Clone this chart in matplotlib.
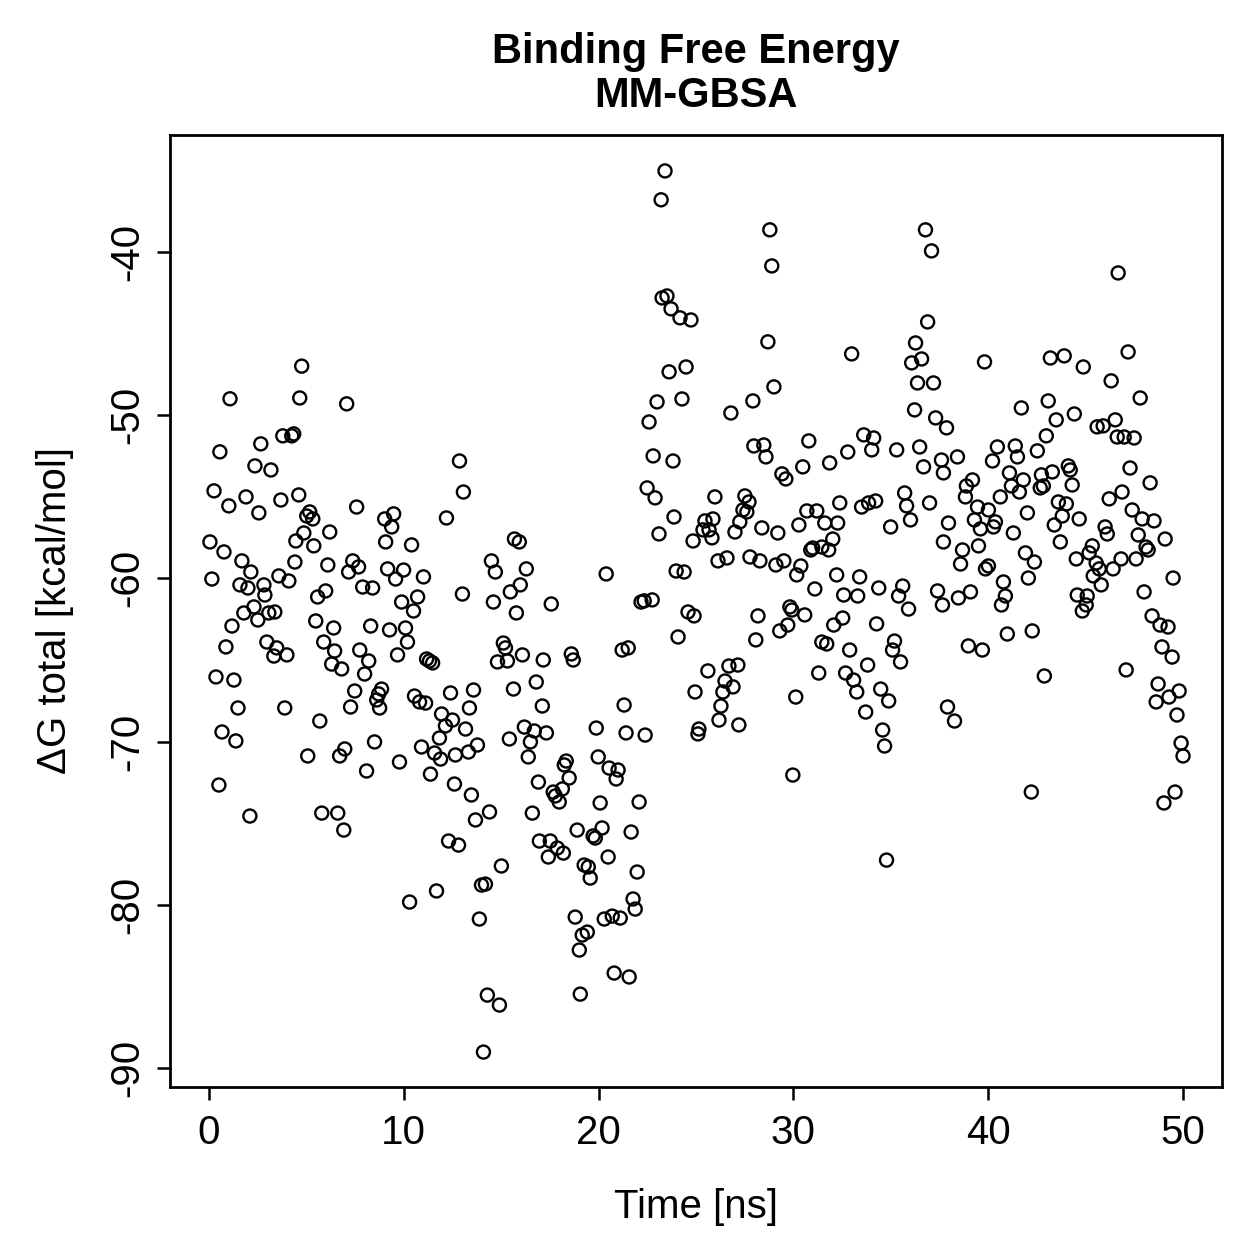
import matplotlib
matplotlib.use("Agg")
import matplotlib.pyplot as plt

plt.rcParams['font.family'] = ['Liberation Sans', 'DejaVu Sans']
plt.rcParams['axes.unicode_minus'] = False

# values, grouped roughly by region
time_ns = [
    4.76, 1.08, 4.66, 7.07, 3.79, 4.25, 4.35, 2.66, 0.56,
    2.36, 3.18, 0.26, 1.02, 1.90, 2.56, 3.69, 4.61, 5.02, 5.17,
    5.33, 4.87, 4.46, 6.20, 5.38, 7.58, 9.02, 9.48, 9.38, 9.07,
    10.40, 0.05, 0.77, 1.69, 2.15, 4.41, 6.10, 7.38, 7.68, 7.17,
    9.17, 9.99, 9.58, 11.01, 0.15, 1.59, 2.00, 2.82, 2.87, 3.59,
    4.10, 5.99, 5.58, 7.89, 8.40, 9.89, 10.71, 10.50, 12.19, 2.31,
    1.79, 2.51, 3.07, 3.38, 1.18, 5.48, 6.40, 8.30, 9.27, 10.09,
    0.87, 2.97, 3.48, 3.33, 4.00, 5.89, 6.45, 6.30, 6.81, 7.74,
    8.20, 7.99, 10.19, 9.68, 11.17, 11.32, 11.48, 0.36, 1.28, 7.48,
    8.86, 8.71, 8.61, 8.76, 10.55, 10.81, 11.12, 12.40, 1.49, 3.89,
    7.27, 5.69, 11.94, 12.14, 11.83, 0.67, 1.38, 8.50, 10.91, 5.07,
    6.97, 6.71, 9.78, 11.58, 11.89,
    8.09, 11.37, 0.51, 2.10, 5.79, 6.61, 6.92, 12.30, 11.68, 10.30,
    23.41, 23.21, 23.26, 23.51, 23.72, 24.18, 24.74, 23.62, 24.49, 23.00,
    24.28, 22.59, 22.80, 23.82, 12.86,
    13.06, 15.68, 15.93, 14.50, 14.70, 16.29, 15.98, 15.47, 13.01, 14.60,
    15.78, 17.57, 20.39, 22.49, 22.90, 23.87, 23.10, 24.85, 23.98, 24.39,
    22.18, 22.34, 22.75, 24.59, 24.90, 24.08, 15.11, 15.22, 14.81, 15.32,
    16.09, 17.16, 18.60, 18.70, 21.21, 21.52, 13.58, 15.63, 16.80, 13.37,
    12.50, 17.11, 21.31, 13.17, 16.19, 16.70, 17.32, 15.42, 16.50, 19.88,
    21.41, 22.39, 25.15, 25.10, 24.95, 13.78, 12.65, 13.32, 16.39, 19.98,
    18.34, 18.24, 20.54, 21.00, 20.90, 12.60, 13.47, 16.91, 18.49, 17.67,
    18.14, 17.78, 17.98, 20.08, 22.08, 14.40, 13.68, 16.60, 18.90, 19.72,
    19.83, 20.18, 21.67, 12.81, 16.96, 17.52, 17.88, 18.19, 17.42, 20.49,
    19.26, 19.47, 19.57, 21.98, 15.01, 13.99, 14.19, 21.77, 21.88, 18.80,
    20.29, 20.70, 21.11, 19.42, 19.16, 19.01, 13.88, 20.80, 21.57, 14.29,
    14.91, 19.06, 14.09,
    28.79, 28.89, 28.69, 32.99, 36.78, 37.09, 36.89, 36.27, 36.58, 36.07,
    36.37, 37.19, 36.22, 37.30, 37.86, 29.00, 27.92, 26.79, 27.97, 28.48,
    28.59, 30.79, 33.61, 34.12, 34.02, 32.79, 31.86, 35.30, 36.48, 37.60,
    29.41, 29.61, 30.48, 36.68, 37.70, 25.97, 27.51, 27.72, 27.41, 27.61,
    25.46, 25.87, 25.36, 25.67, 25.82, 27.00, 27.25, 28.38, 29.20, 30.28,
    30.69, 31.20, 31.61, 32.27, 32.38, 33.50, 33.86, 34.22, 35.71, 35.81,
    36.01, 34.99, 36.99, 37.96, 37.70, 32.02, 30.89, 30.99, 31.46, 31.81,
    26.13, 26.59, 27.77, 28.28, 29.10, 29.51, 30.38, 30.17, 32.22, 33.40,
    31.10, 32.58, 33.30, 34.38, 35.61, 35.40, 35.91, 37.40, 37.65, 28.18,
    29.82, 29.92, 30.58, 29.71, 29.30, 32.53, 32.07, 34.27, 28.07, 31.46,
    31.71, 32.89, 35.19, 35.09, 35.50, 33.81, 25.61, 26.69, 27.15, 26.49,
    26.90, 26.38, 26.28, 26.18, 27.20, 31.30, 32.68, 33.09, 33.25, 30.12,
    34.48, 34.89, 33.71, 34.58, 34.68, 37.91, 29.97, 34.78,
    46.67, 39.81, 43.19, 43.90, 44.88, 47.18, 46.31, 47.80, 41.70, 43.08,
    43.49, 44.42, 45.59, 45.90, 46.52, 46.62, 46.98, 47.49, 42.98, 40.47,
    41.39, 41.50, 42.52, 38.42, 40.22,
    39.19, 38.88, 38.83, 41.09, 41.80, 41.19, 41.60, 42.73, 43.29, 42.67,
    42.83, 44.11, 44.21, 44.31, 40.62, 47.28, 48.31, 46.87, 46.21, 43.60,
    44.01, 43.80, 44.67, 43.39, 42.01, 39.45, 40.01, 39.29, 39.60, 40.37,
    40.27, 41.29, 39.50, 38.68, 38.58, 41.91, 42.37, 43.70, 46.00, 46.11,
    47.39, 47.90, 48.51, 47.70, 49.08, 48.10, 48.21, 47.59, 46.82, 45.34,
    45.18, 44.52, 45.54, 45.70, 45.39, 46.41, 45.80, 40.01, 39.86, 40.78,
    42.06, 39.09, 38.47, 40.88, 40.68, 44.57, 45.08, 45.03, 44.83, 48.00,
    49.49, 48.41, 48.82, 49.23, 48.92, 49.44, 47.08, 48.72, 49.80, 49.28,
    48.62, 49.69, 49.90, 50.00, 40.98, 42.26, 38.98, 39.70, 42.88, 38.27,
    42.21, 49.59, 49.02,
]

dg_total = [
    -47.0, -49.0, -48.95, -49.31, -51.27, -51.27, -51.15, -51.76, -52.25,
    -53.11, -53.36, -54.64, -55.56, -55.01, -55.99, -55.20, -54.89, -56.18, -55.93,
    -56.36, -57.22, -57.71, -57.16, -58.01, -55.63, -56.36, -56.05, -56.85, -57.77,
    -57.95, -57.77, -58.38, -58.93, -59.61, -59.0, -59.18, -58.93, -59.30, -59.61,
    -59.42, -59.49, -60.04, -59.91, -60.04, -60.40, -60.59, -60.40, -61.02, -59.85,
    -60.16, -60.77, -61.14, -60.53, -60.59, -61.45, -61.14, -62.0, -56.30, -61.75,
    -62.12, -62.55, -62.12, -62.06, -62.92, -62.61, -63.04, -62.92, -63.16, -63.04,
    -64.20, -63.90, -64.26, -64.76, -64.69, -63.90, -64.45, -65.25, -65.55, -64.39,
    -65.06, -65.86, -63.90, -64.69, -64.94, -65.06, -65.18, -66.04, -66.23, -66.90,
    -66.78, -67.08, -67.45, -67.94, -67.21, -67.57, -67.64, -67.02, -67.94, -67.94,
    -67.88, -68.74, -68.31, -69.04, -69.78, -69.41, -69.96, -70.02, -70.33, -70.88,
    -70.45, -70.88, -71.25, -70.70, -71.07,
    -71.80, -71.99, -72.66, -74.56, -74.38, -74.38, -75.42, -76.09, -79.15, -79.83,
    -35.04, -36.81, -42.82, -42.70, -43.49, -44.04, -44.17, -47.35, -47.05, -49.19,
    -49.01, -50.42, -52.50, -52.81, -52.81,
    -54.71, -57.59, -57.77, -58.93, -59.61, -59.42, -60.40, -60.83, -60.96, -61.45,
    -62.12, -61.57, -59.73, -54.46, -55.07, -56.24, -57.28, -57.71, -59.55, -59.61,
    -61.45, -61.38, -61.32, -62.06, -62.30, -63.59, -63.96, -64.26, -65.12, -65.06,
    -64.69, -65.0, -64.63, -65.0, -64.39, -64.26, -66.84, -66.78, -66.35, -67.94,
    -68.68, -67.82, -67.76, -69.23, -69.11, -69.35, -69.47, -69.84, -70.02, -69.17,
    -69.47, -69.60, -69.23, -69.53, -66.96, -70.21, -70.82, -70.64, -70.94, -70.94,
    -71.19, -71.43, -71.62, -71.74, -72.29, -72.60, -73.27, -72.48, -72.23, -73.09,
    -72.90, -73.33, -73.70, -73.76, -73.70, -74.31, -74.80, -74.38, -75.42, -75.78,
    -75.91, -75.29, -75.54, -76.34, -76.09, -76.09, -76.52, -76.83, -77.07, -77.07,
    -77.56, -77.68, -78.36, -77.99, -77.62, -78.79, -78.73, -79.64, -80.26, -80.75,
    -80.87, -80.69, -80.81, -81.67, -81.85, -82.77, -80.87, -84.18, -84.42, -85.53,
    -86.14, -85.47, -89.02,
    -38.65, -40.86, -45.51, -46.25, -38.65, -39.94, -44.29, -45.58, -46.56, -46.80,
    -48.03, -48.03, -49.68, -50.17, -50.78, -48.27, -49.13, -49.87, -51.89, -51.83,
    -52.56, -51.58, -51.21, -51.40, -52.13, -52.26, -52.93, -52.13, -51.95, -52.75,
    -53.60, -53.91, -53.17, -53.17, -53.54, -55.01, -54.95, -55.32, -55.81, -55.93,
    -56.48, -56.36, -57.03, -57.03, -57.52, -57.16, -56.54, -56.91, -57.22, -56.73,
    -55.87, -55.87, -56.61, -56.61, -55.38, -55.63, -55.38, -55.26, -54.77, -55.56,
    -56.42, -56.85, -55.38, -56.61, -57.77, -57.59, -58.26, -58.14, -58.08, -58.26,
    -58.93, -58.75, -58.69, -58.93, -59.18, -58.93, -59.24, -59.79, -59.79, -59.91,
    -60.65, -61.02, -61.08, -60.59, -60.47, -61.08, -61.88, -60.77, -61.63, -62.30,
    -61.75, -61.94, -62.24, -62.86, -63.22, -62.43, -62.86, -62.79, -63.77, -63.90,
    -64.02, -64.39, -63.84, -64.39, -65.12, -65.31, -65.67, -65.37, -65.31, -66.29,
    -66.65, -66.96, -67.82, -68.68, -68.98, -65.80, -65.80, -66.23, -66.96, -67.27,
    -66.78, -67.51, -68.19, -69.29, -70.27, -67.88, -72.05, -77.26,
    -41.29, -46.74, -46.50, -46.37, -47.05, -46.13, -47.90, -48.95, -49.56, -49.13,
    -50.29, -49.93, -50.72, -50.66, -50.29, -51.34, -51.34, -51.40, -51.27, -51.95,
    -51.89, -52.56, -52.19, -52.56, -52.81,
    -53.97, -54.34, -55.01, -53.54, -53.97, -54.34, -54.71, -53.66, -53.48, -54.46,
    -54.34, -53.11, -53.36, -54.28, -55.01, -53.24, -54.15, -54.71, -55.13, -55.32,
    -55.44, -56.18, -56.36, -56.73, -55.99, -55.63, -55.81, -56.42, -56.97, -56.54,
    -56.85, -57.22, -58.01, -58.26, -59.12, -58.44, -59.0, -57.77, -56.85, -57.28,
    -55.81, -56.36, -56.48, -57.34, -57.59, -58.08, -58.26, -58.81, -58.81, -58.01,
    -58.44, -58.81, -59.06, -59.42, -59.85, -59.42, -60.40, -59.24, -59.42, -60.22,
    -59.98, -60.83, -61.20, -61.08, -61.63, -61.02, -61.08, -61.63, -62.0, -60.83,
    -59.98, -62.30, -62.86, -62.98, -64.20, -64.82, -65.61, -66.47, -66.90, -67.27,
    -67.57, -68.37, -70.09, -70.88, -63.41, -63.22, -64.14, -64.39, -65.98, -68.74,
    -73.09, -73.09, -73.76,
]

assert len(time_ns) == len(dg_total)

title_text = "Binding Free Energy\nMM-GBSA"
x_ticks = [0, 10, 20, 30, 40, 50]
y_ticks = [-90, -80, -70, -60, -50, -40]

W = 1259.0
fig = plt.figure(figsize=(W / 200, W / 200), dpi=200)
ax = fig.add_axes([170 / W, 1 - 1087 / W, (1222 - 170) / W, (1087 - 135) / W])

ax.scatter(time_ns, dg_total, s=22, facecolors='none', edgecolors='black',
           linewidths=0.85)

ax.set_xlim(-2, 52)
ax.set_ylim(-91.16, -32.84)
ax.set_xticks(x_ticks)
ax.set_yticks(y_ticks)
ax.tick_params(direction='out', length=4.7, width=0.9, labelsize=14.5,
               color='black')
ax.tick_params(axis='x', pad=5)
ax.tick_params(axis='y', pad=4)
for lab in ax.get_yticklabels():
    lab.set_rotation(90)
    lab.set_va('center')
for sp in ax.spines.values():
    sp.set_linewidth(1.0)

ax.set_xlabel('Time [ns]', fontsize=14.5, labelpad=13)
ax.set_ylabel('ΔG total [kcal/mol]', fontsize=14.5, labelpad=12)
ax.set_title(title_text, fontsize=15, fontweight='bold', pad=10,
             linespacing=1.15)

fig.savefig('out.png', dpi=200)
